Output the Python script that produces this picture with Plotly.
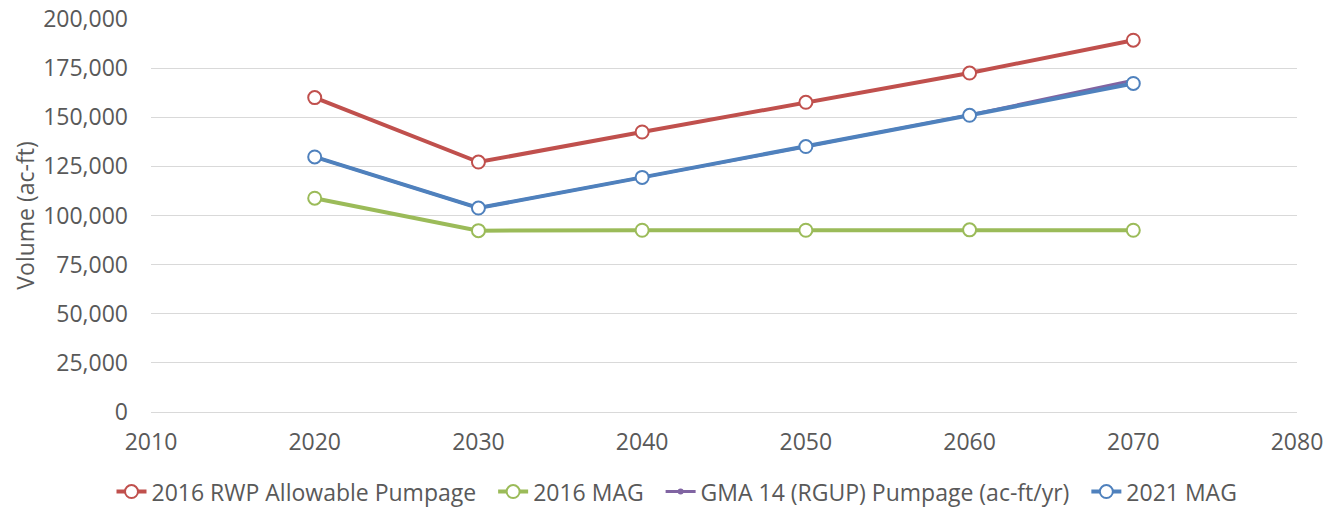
import plotly.graph_objects as go

years = [2020, 2030, 2040, 2050, 2060, 2070]

rwp_2016 = [160000, 127200, 142500, 157600, 172500, 189200]
mag_2016 = [108800, 92300, 92500, 92500, 92700, 92500]
gma14_rgup = [129800, 103800, 119400, 135100, 151200, 168800]
mag_2021 = [129800, 103800, 119400, 135100, 151000, 167200]

series_names = [
    "2016 RWP Allowable Pumpage",
    "2016 MAG",
    "GMA 14 (RGUP) Pumpage (ac-ft/yr)",
    "2021 MAG",
]

font_family = "Open Sans, Noto Sans, Liberation Sans, sans-serif"
grey = "#595959"
fsize = 23
pad = "\u00a0" * 2  # a little extra room between legend items

fig = go.Figure()

fig.add_trace(go.Scatter(
    x=years, y=rwp_2016, name=series_names[0] + pad, mode="lines+markers",
    line=dict(color="#C0504D", width=4),
    marker=dict(symbol="circle", size=13, color="white", line=dict(color="#C0504D", width=2)),
))
fig.add_trace(go.Scatter(
    x=years, y=mag_2016, name=series_names[1] + pad, mode="lines+markers",
    line=dict(color="#9BBB59", width=4),
    marker=dict(symbol="circle", size=13, color="white", line=dict(color="#9BBB59", width=2)),
))
fig.add_trace(go.Scatter(
    x=years, y=gma14_rgup, name=series_names[2] + pad, mode="lines+markers",
    line=dict(color="#8064A2", width=3),
    marker=dict(symbol="circle", size=6, color="#8064A2"),
))
fig.add_trace(go.Scatter(
    x=years, y=mag_2021, name=series_names[3], mode="lines+markers",
    line=dict(color="#4F81BD", width=4),
    marker=dict(symbol="circle", size=13, color="white", line=dict(color="#4F81BD", width=2)),
))

fig.update_xaxes(
    range=[2010, 2080], dtick=10, tick0=2010, showgrid=False, zeroline=False,
    showline=False, ticks="", ticklabelstandoff=14, automargin=False,
    ticklabeloverflow="allow",
    tickfont=dict(size=fsize, color=grey, family=font_family),
)
fig.update_yaxes(
    range=[0, 200000], dtick=25000, tickformat=",d", showgrid=True,
    gridcolor="#D9D9D9", gridwidth=1, zeroline=True, zerolinecolor="#D9D9D9",
    zerolinewidth=1, ticks="", ticklabelstandoff=22, automargin=False,
    ticklabeloverflow="allow",
    tickfont=dict(size=fsize, color=grey, family=font_family),
    title=dict(text="Volume (ac-ft)", font=dict(size=fsize, color=grey, family=font_family),
               standoff=2),
)

# the page body adds an 8px offset, margins are set to compensate
fig.update_layout(
    width=1338, height=508,
    margin=dict(l=143, r=49, t=11, b=104),
    plot_bgcolor="white", paper_bgcolor="white",
    font=dict(family=font_family, color=grey, size=fsize),
    showlegend=True,
    legend=dict(
        orientation="h", x=0.5, xanchor="center", xref="container",
        y=0.048, yanchor="middle", yref="container",
        font=dict(size=fsize, color=grey, family=font_family),
        itemwidth=30, tracegroupgap=0,
    ),
)

fig.write_html("out.html")
